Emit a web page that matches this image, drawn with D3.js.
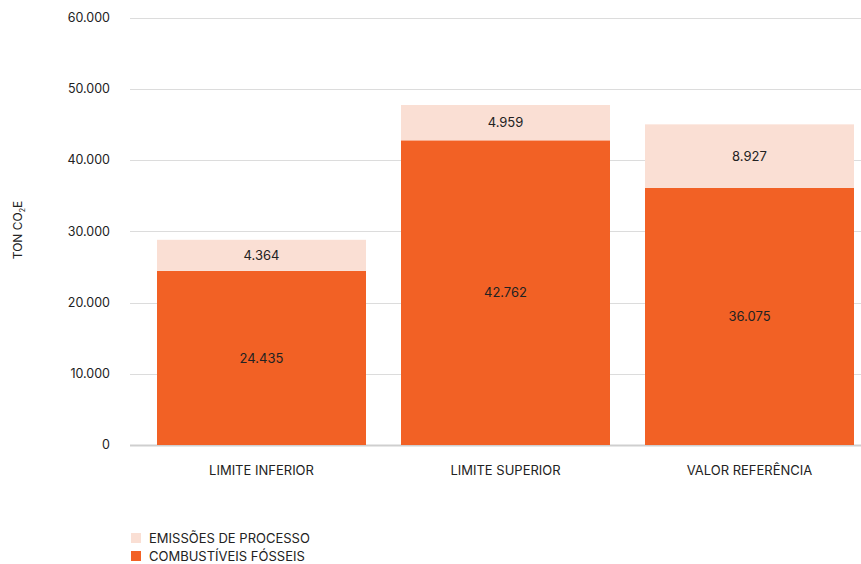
<!DOCTYPE html>
<html><head><meta charset="utf-8">
<script src="https://cdn.jsdelivr.net/npm/d3@7"></script>
<style>body{margin:0;background:#fff}svg{display:block;font-family:Inter,"Noto Sans",sans-serif}</style>
</head><body>
<svg id="c" width="861" height="564"></svg>
<script>
const categories = ["LIMITE INFERIOR", "LIMITE SUPERIOR", "VALOR REFERÊNCIA"];
const seriesNames = ["COMBUSTÍVEIS FÓSSEIS", "EMISSÕES DE PROCESSO"];
const combustiveis = [24435, 42762, 36075];
const emissoes = [4364, 4959, 8927];
const yTicks = [0, 10000, 20000, 30000, 40000, 50000, 60000];
const colors = ["#F26125", "#FADFD4"];

const svg = d3.select("#c");
const W = 861;
const y = d3.scaleLinear().domain([0, 60000]).range([445, 17.5]);
const x = d3.scaleBand().domain(categories).range([130, 881]).paddingInner(35/244).paddingOuter(27/244);
const fmt = v => d3.format(",")(v).replace(/,/g, ".");

// gridlines
svg.append("g").selectAll("line").data(yTicks).join("line")
  .attr("x1", 130).attr("x2", W)
  .attr("y1", d => Math.round(y(d)) + 0.5).attr("y2", d => Math.round(y(d)) + 0.5)
  .attr("stroke", d => d === 0 ? "#cfcfcf" : "#dcdcdc")
  .attr("stroke-width", d => d === 0 ? 2 : 1);
svg.append("g").selectAll("text").data(yTicks).join("text")
  .attr("x", 110).attr("y", d => y(d)).attr("dy", "0.35em")
  .attr("text-anchor", "end").attr("font-size", 12.5).attr("fill", "#222")
  .text(d => fmt(d));

// stacked data
const rows = categories.map((c, i) => ({cat: c, s0: combustiveis[i], s1: emissoes[i]}));
const stack = d3.stack().keys(["s0", "s1"])(rows);
const g = svg.append("g");
stack.forEach((layer, li) => {
  g.append("g").selectAll("rect").data(layer).join("rect")
    .attr("x", d => x(d.data.cat)).attr("width", x.bandwidth())
    .attr("y", d => y(d[1])).attr("height", d => y(d[0]) - y(d[1]))
    .attr("fill", colors[li]);
  g.append("g").selectAll("text").data(layer).join("text")
    .attr("x", d => x(d.data.cat) + x.bandwidth()/2)
    .attr("y", d => (y(d[0]) + y(d[1]))/2).attr("dy", "0.35em")
    .attr("text-anchor", "middle").attr("font-size", 13).attr("fill", "#222")
    .text(d => fmt(d[1] - d[0]));
});

// x labels
svg.append("g").selectAll("text").data(categories).join("text")
  .attr("x", d => x(d) + x.bandwidth()/2).attr("y", 470).attr("dy", "0.35em")
  .attr("text-anchor", "middle").attr("font-size", 13).attr("fill", "#222")
  .text(d => d);

// y title
const t = svg.append("text").attr("transform", "translate(22,230) rotate(-90)")
  .attr("text-anchor", "middle").attr("font-size", 12).attr("fill", "#222");
t.append("tspan").text("TON CO");
t.append("tspan").attr("font-size", 7).attr("dy", 3).text("2");
t.append("tspan").attr("dy", -3).text("E");

// legend
const legend = [{name: seriesNames[1], color: colors[1]}, {name: seriesNames[0], color: colors[0]}];
const lg = svg.append("g").selectAll("g").data(legend).join("g")
  .attr("transform", (d, i) => `translate(131,${533 + i*18})`);
lg.append("rect").attr("width", 10).attr("height", 10).attr("fill", d => d.color);
lg.append("text").attr("x", 18).attr("y", 5).attr("dy", "0.35em")
  .attr("font-size", 13).attr("fill", "#222").text(d => d.name);
</script>
</body></html>
